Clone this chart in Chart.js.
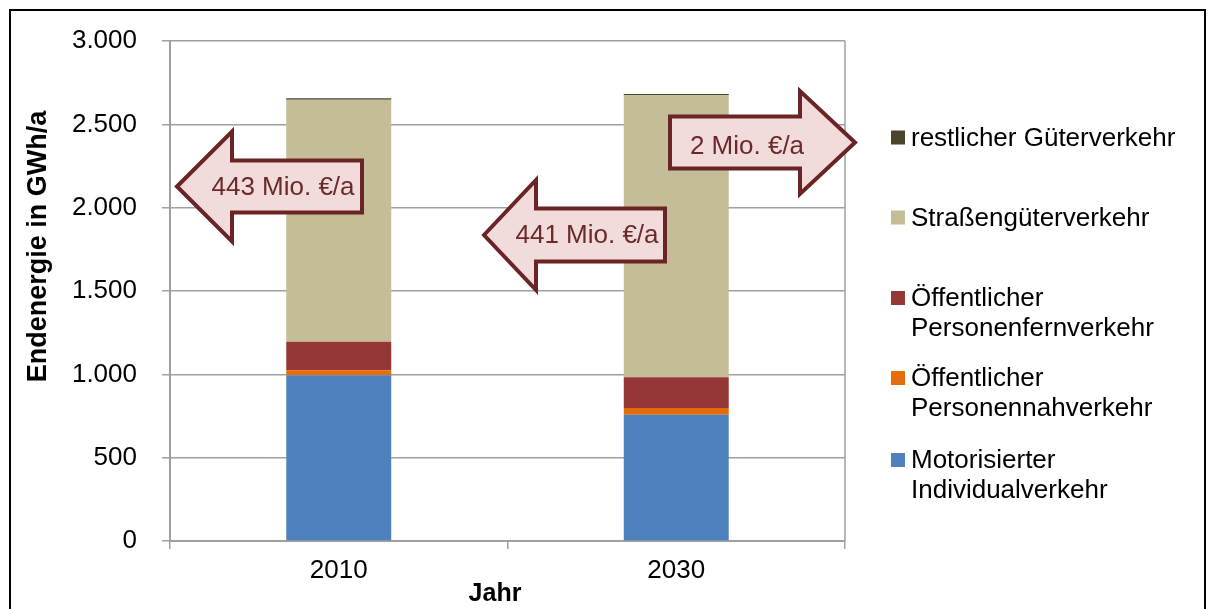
<!DOCTYPE html>
<html><head><meta charset="utf-8">
<script src="https://cdn.jsdelivr.net/npm/chart.js@4.4.0/dist/chart.umd.min.js"></script>
<style>html,body{margin:0;padding:0;background:#fff;} #wrap{width:1214px;height:609px;position:relative;}</style>
</head><body><div id="wrap"><canvas id="c" width="1214" height="609"></canvas></div>
<script>
const categories = ['2010', '2030'];
const motorisierterIndividualverkehr = [995, 758];
const oeffentlicherPersonennahverkehr = [30, 40];
const oeffentlicherPersonenfernverkehr = [170, 184];
const strassengueterverkehr = [1453, 1692];
const restlicherGueterverkehr = [8, 8];
const seriesLabels = [
  ['Motorisierter', 'Individualverkehr'],
  ['Öffentlicher', 'Personennahverkehr'],
  ['Öffentlicher', 'Personenfernverkehr'],
  ['Straßengüterverkehr'],
  ['restlicher Güterverkehr']
];
const yTickValues = [0, 500, 1000, 1500, 2000, 2500, 3000];
const yTickLabels = ['0', '500', '1.000', '1.500', '2.000', '2.500', '3.000'];
const arrowLabels = ['443 Mio. €/a', '441 Mio. €/a', '2 Mio. €/a'];
const yAxisTitle = 'Endenergie in GWh/a';
const xAxisTitle = 'Jahr';

const colors = ['#4f81bd', '#e46c0a', '#953735', '#c4bd97', '#4a452a'];
const FONT = '"Liberation Sans", Arial, sans-serif';
const GRID = '#a0a0a0';

const seriesValues = [motorisierterIndividualverkehr, oeffentlicherPersonennahverkehr,
  oeffentlicherPersonenfernverkehr, strassengueterverkehr, restlicherGueterverkehr];

const datasets = seriesValues.map((vals, i) => ({
  label: seriesLabels[i].join(' '),
  data: vals,
  backgroundColor: colors[i],
  borderWidth: 0,
  barPercentage: 0.311,
  categoryPercentage: 1.0
}));

// annotation arrow geometry (styling)
const arrows = [
  {dir: 'left', tip: 177, y: 186.5, head: 232, headHalf: 55, bodyHalf: 26, end: 362, tx: 283, ty: 188},
  {dir: 'left', tip: 484, y: 235, head: 536, headHalf: 55, bodyHalf: 26.5, end: 665, tx: 587, ty: 236},
  {dir: 'right', tip: 855, y: 142.5, head: 800, headHalf: 51.5, bodyHalf: 26, end: 670, tx: 747, ty: 147}
];
const legendRows = [
  {ds: 4, y: 137.5}, {ds: 3, y: 217.5}, {ds: 2, y: 298}, {ds: 1, y: 378}, {ds: 0, y: 460}
];

const decor = {
  id: 'decor',
  afterDraw(chart) {
    const ctx = chart.ctx, ca = chart.chartArea;
    ctx.save();
    // right plot border
    ctx.strokeStyle = GRID; ctx.lineWidth = 1.5;
    ctx.beginPath(); ctx.moveTo(ca.right, ca.top); ctx.lineTo(ca.right, ca.bottom); ctx.stroke();
    // outer frame
    ctx.strokeStyle = '#000'; ctx.lineWidth = 2;
    ctx.strokeRect(10, 10, 1195, 640);
    // arrows
    arrows.forEach((a, i) => {
      const s = a.dir === 'left' ? 1 : -1;
      ctx.beginPath();
      ctx.moveTo(a.tip, a.y);
      ctx.lineTo(a.head, a.y - a.headHalf);
      ctx.lineTo(a.head, a.y - a.bodyHalf);
      ctx.lineTo(a.end, a.y - a.bodyHalf);
      ctx.lineTo(a.end, a.y + a.bodyHalf);
      ctx.lineTo(a.head, a.y + a.bodyHalf);
      ctx.lineTo(a.head, a.y + a.headHalf);
      ctx.closePath();
      ctx.fillStyle = '#f2dcdb';
      ctx.fill();
      ctx.strokeStyle = '#6b2424'; ctx.lineWidth = 4; ctx.lineJoin = 'miter';
      ctx.stroke();
      ctx.fillStyle = '#6b2a2a';
      ctx.font = '26px ' + FONT;
      ctx.textAlign = 'center'; ctx.textBaseline = 'middle';
      ctx.fillText(arrowLabels[i], a.tx, a.ty);
    });
    // legend
    ctx.font = '26px ' + FONT;
    ctx.textAlign = 'left'; ctx.textBaseline = 'middle';
    legendRows.forEach(r => {
      const ds = chart.data.datasets[r.ds];
      ctx.fillStyle = ds.backgroundColor;
      ctx.fillRect(891, r.y - 7, 14, 14);
      ctx.fillStyle = '#000';
      seriesLabels[r.ds].forEach((line, k) => ctx.fillText(line, 911, r.y + 1 + k * 30));
    });
    // axis titles
    ctx.font = 'bold 27px ' + FONT;
    ctx.fillStyle = '#000';
    ctx.save();
    ctx.translate(39, 246.5);
    ctx.rotate(-Math.PI / 2);
    ctx.textAlign = 'center'; ctx.textBaseline = 'middle';
    ctx.fillText(yAxisTitle, 0, 0);
    ctx.restore();
    ctx.font = 'bold 25px ' + FONT;
    ctx.textAlign = 'center'; ctx.textBaseline = 'middle';
    ctx.fillText(xAxisTitle, 495, 594);
    ctx.restore();
  }
};

new Chart(document.getElementById('c'), {
  type: 'bar',
  data: {labels: categories, datasets},
  options: {
    responsive: false,
    animation: false,
    devicePixelRatio: 1,
    layout: {padding: {left: 0, right: 369, top: 41, bottom: 0}},
    plugins: {legend: {display: false}, tooltip: {enabled: false}, title: {display: false}},
    scales: {
      x: {
        stacked: true,
        grid: {display: true, drawOnChartArea: false, drawTicks: true, tickLength: 8, color: GRID, lineWidth: 1.5, offset: true},
        border: {color: GRID, width: 2},
        ticks: {font: {size: 26, family: FONT}, color: '#000', padding: 6},
        afterFit: s => { s.height = 68; }
      },
      y: {
        stacked: true, min: 0, max: 3000,
        grid: {color: GRID, lineWidth: 1.5, tickLength: 8},
        border: {color: GRID, width: 2},
        ticks: {
          stepSize: 500, padding: 25, color: '#000', font: {size: 26, family: FONT},
          callback: v => { const i = yTickValues.indexOf(v); return i >= 0 ? yTickLabels[i] : ''; }
        },
        afterFit: s => { s.width = 170; }
      }
    }
  },
  plugins: [decor]
});
</script>
</body></html>
